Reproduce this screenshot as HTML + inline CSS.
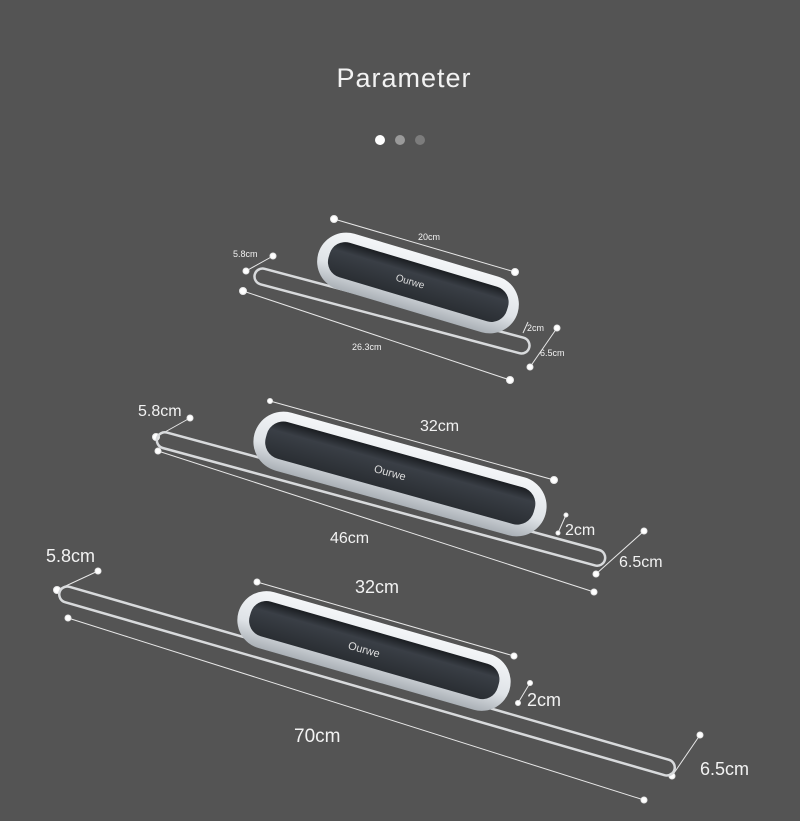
<!DOCTYPE html>
<html><head><meta charset="utf-8"><style>
html,body{margin:0;padding:0;background:#545454;}
svg{display:block}
text{font-family:"Liberation Sans",sans-serif;fill:#f2f2f2}
</style></head><body>
<svg width="800" height="821" viewBox="0 0 800 821" xmlns="http://www.w3.org/2000/svg">
<defs>
<linearGradient id="wg" x1="0" y1="0" x2="0" y2="1">
<stop offset="0" stop-color="#f4f6f8"/><stop offset="0.6" stop-color="#dfe3e7"/><stop offset="1" stop-color="#aab0b6"/></linearGradient>
<linearGradient id="dg" x1="0" y1="0" x2="0" y2="1">
<stop offset="0" stop-color="#1a1d21"/><stop offset="0.3" stop-color="#3a3f46"/><stop offset="1" stop-color="#2a2e33"/></linearGradient>
</defs>
<rect width="800" height="821" fill="#545454"/>
<text x="404" y="87" font-size="27" text-anchor="middle" letter-spacing="1">Parameter</text>
<circle cx="380" cy="140" r="5" fill="#fff"/>
<circle cx="400" cy="140" r="5" fill="#9a9a9a"/>
<circle cx="420" cy="140" r="5" fill="#7c7c7c"/>

<g stroke="#e8e8e8" stroke-width="1" fill="#fff">
<line x1="334" y1="219" x2="515" y2="272"/><line x1="246" y1="271" x2="273" y2="256"/>
<line x1="243" y1="291" x2="510" y2="380"/><line x1="530" y1="367" x2="557" y2="328"/>
<line x1="528" y1="322" x2="523" y2="333"/>
<circle cx="334" cy="219" r="3.5"/><circle cx="515" cy="272" r="3.5"/><circle cx="246" cy="271" r="3"/><circle cx="273" cy="256" r="3"/>
<circle cx="243" cy="291" r="3.5"/><circle cx="510" cy="380" r="3.5"/><circle cx="530" cy="367" r="3"/><circle cx="557" cy="328" r="3"/>
<line x1="270" y1="401" x2="554" y2="480"/><line x1="156" y1="437" x2="190" y2="418"/>
<line x1="158" y1="451" x2="594" y2="592"/><line x1="596" y1="574" x2="644" y2="531"/>
<line x1="566" y1="515" x2="558" y2="533"/>
<circle cx="270" cy="401" r="2.5"/><circle cx="554" cy="480" r="3.5"/><circle cx="156" cy="437" r="3.5"/><circle cx="190" cy="418" r="3"/>
<circle cx="158" cy="451" r="3"/><circle cx="594" cy="592" r="3"/><circle cx="596" cy="574" r="3"/><circle cx="644" cy="531" r="3"/>
<circle cx="566" cy="515" r="2"/><circle cx="558" cy="533" r="2"/>
<line x1="257" y1="582" x2="514" y2="656"/><line x1="57" y1="590" x2="98" y2="571"/>
<line x1="68" y1="618" x2="644" y2="800"/><line x1="672" y1="776" x2="700" y2="735"/>
<line x1="530" y1="683" x2="518" y2="703"/>
<circle cx="257" cy="582" r="3"/><circle cx="514" cy="656" r="3"/><circle cx="57" cy="590" r="3.5"/><circle cx="98" cy="571" r="3"/>
<circle cx="68" cy="618" r="3"/><circle cx="644" cy="800" r="3"/><circle cx="672" cy="776" r="3"/><circle cx="700" cy="735" r="3"/>
<circle cx="530" cy="683" r="2.5"/><circle cx="518" cy="703" r="2.5"/>
</g>

<g fill="none" stroke="#d8dadc" stroke-width="2.5">
<rect x="-142" y="-8" width="284" height="16" rx="8" transform="translate(392,311) rotate(14.9)"/>
<rect x="-232" y="-8" width="464" height="16" rx="8" transform="translate(381,499) rotate(15.2)"/>
<rect x="-320" y="-8" width="640" height="16" rx="8" transform="translate(367,681) rotate(16.1)"/>
</g>

<g transform="translate(418,283) rotate(16.6)">
<rect x="-104" y="-29" width="208" height="58" rx="29" fill="url(#wg)"/>
<rect x="-93" y="-19" width="186" height="36" rx="16" fill="url(#dg)"/>
<text x="-8" y="4" font-size="10" text-anchor="middle" style="fill:#ddd">Ourwe</text>
</g>
<g transform="translate(400,474) rotate(15.5)">
<rect x="-151" y="-30" width="302" height="60" rx="30" fill="url(#wg)"/>
<rect x="-139" y="-20" width="278" height="38" rx="17" fill="url(#dg)"/>
<text x="-10" y="5" font-size="11" text-anchor="middle" style="fill:#ddd">Ourwe</text>
</g>
<g transform="translate(374,651) rotate(16)">
<rect x="-141" y="-29" width="282" height="58" rx="29" fill="url(#wg)"/>
<rect x="-129" y="-19" width="258" height="36" rx="16" fill="url(#dg)"/>
<text x="-10" y="5" font-size="11" text-anchor="middle" style="fill:#ddd">Ourwe</text>
</g>

<text x="418" y="240" font-size="9">20cm</text>
<text x="233" y="257" font-size="9">5.8cm</text>
<text x="352" y="350" font-size="9">26.3cm</text>
<text x="527" y="331" font-size="9">2cm</text>
<text x="540" y="356" font-size="9">6.5cm</text>

<text x="420" y="431" font-size="16">32cm</text>
<text x="138" y="416" font-size="16">5.8cm</text>
<text x="330" y="543" font-size="16">46cm</text>
<text x="565" y="535" font-size="16">2cm</text>
<text x="619" y="567" font-size="16">6.5cm</text>

<text x="355" y="593" font-size="18">32cm</text>
<text x="46" y="562" font-size="18">5.8cm</text>
<text x="294" y="742" font-size="19">70cm</text>
<text x="527" y="706" font-size="18">2cm</text>
<text x="700" y="775" font-size="18">6.5cm</text>
</svg>
</body></html>
